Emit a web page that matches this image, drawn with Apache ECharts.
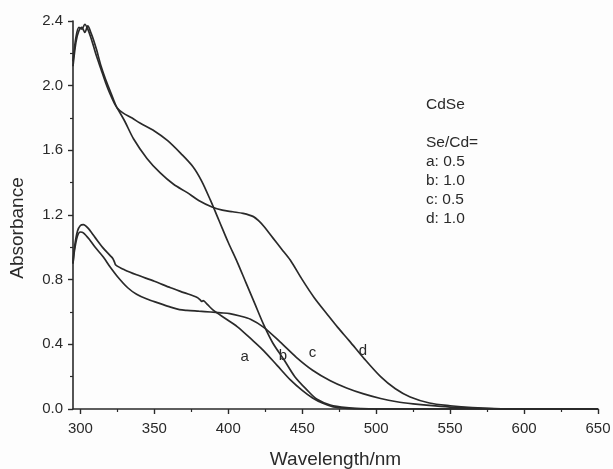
<!DOCTYPE html>
<html>
<head>
<meta charset="utf-8">
<script src="https://cdn.jsdelivr.net/npm/echarts@6/dist/echarts.min.js"></script>
<style>
  html, body { margin: 0; padding: 0; background: #fdfdfd; }
  #chart { width: 613px; height: 469px; }
</style>
</head>
<body>
<div id="chart"></div>
<script>
// wavelength (nm), absorbance pairs
var curveA = [[295,0.9],[296,1.0],[298,1.1],[300,1.135],[302,1.14],[305,1.12],[310,1.06],[315,1.0],[320,0.95],[322,0.93],[323,0.91],[324,0.89],[330,0.86],[338,0.83],[350,0.79],[361,0.75],[370,0.72],[379,0.69],[381,0.675],[382,0.665],[383,0.67],[386,0.645],[390,0.61],[398,0.56],[406,0.51],[417,0.42],[424,0.36],[433,0.27],[442,0.18],[450,0.115],[457,0.068],[464,0.035],[471,0.013],[480,0.004],[490,0],[650,0]];
var curveB = [[295,2.12],[297,2.27],[299,2.34],[301,2.36],[303,2.33],[305,2.37],[307,2.33],[309,2.28],[311,2.22],[314,2.12],[317,2.04],[320,1.97],[323,1.9],[325,1.86],[329,1.83],[335,1.8],[340,1.77],[350,1.72],[359,1.66],[368,1.58],[376,1.5],[382,1.41],[388,1.29],[394,1.16],[400,1.03],[406,0.91],[412,0.78],[418,0.65],[424,0.52],[430,0.41],[438,0.3],[445,0.2],[453,0.12],[460,0.06],[469,0.025],[480,0.008],[490,0.002],[500,0],[650,0]];
var curveC = [[295,0.9],[296,0.98],[298,1.07],[300,1.095],[302,1.09],[306,1.05],[310,1.0],[315.5,0.94],[320,0.88],[325,0.82],[332,0.75],[338,0.71],[345,0.68],[353,0.655],[361,0.63],[367,0.615],[372,0.61],[380,0.605],[388,0.6],[395,0.595],[401,0.59],[408,0.575],[415,0.555],[424,0.505],[435,0.415],[446,0.32],[457,0.24],[469,0.175],[480,0.13],[491,0.095],[503,0.065],[514,0.045],[525,0.032],[536,0.022],[550,0.012],[565,0.005],[580,0.001],[600,0],[650,0]];
var curveD = [[295,2.15],[297,2.3],[299,2.36],[301,2.35],[303,2.38],[305,2.35],[307,2.3],[309,2.24],[311,2.18],[314,2.1],[317,2.02],[320,1.95],[323,1.89],[325,1.86],[330,1.78],[336,1.67],[345,1.55],[354,1.46],[363,1.39],[372,1.34],[380,1.29],[389,1.25],[396,1.23],[403,1.22],[410,1.21],[417,1.19],[421,1.16],[424,1.13],[430,1.06],[436,0.99],[442,0.92],[450,0.8],[458,0.69],[467,0.585],[474,0.505],[482,0.42],[492,0.31],[503,0.2],[513,0.125],[523,0.074],[536,0.037],[550,0.02],[565,0.008],[580,0.002],[600,0],[650,0]];

var curveNames = ["a", "b", "c", "d"];
var labelPos = [[411, 0.32], [437, 0.33], [457, 0.35], [491, 0.36]];

var xMajor = [300, 350, 400, 450, 500, 550, 600, 650];
var xMinor = [325, 375, 425, 475, 525, 575, 625];

var noteLines = ["CdSe", "", "Se/Cd=", "a: 0.5", "b: 1.0", "c: 0.5", "d: 1.0"];

var font = "Liberation Sans, Arial, sans-serif";
var ink = "#2a2a2a";

var chart = echarts.init(document.getElementById("chart"));

var curves = [curveA, curveB, curveC, curveD];
var series = curves.map(function (d, i) {
  return {
    name: curveNames[i],
    type: "line",
    data: d,
    smooth: 0.3,
    showSymbol: false,
    lineStyle: { color: ink, width: 1.7 },
    markPoint: {
      symbol: "circle",
      symbolSize: 0,
      label: {
        show: true,
        formatter: curveNames[i],
        color: ink,
        fontFamily: font,
        fontSize: 15
      },
      data: [{ coord: labelPos[i] }]
    }
  };
});

var option = {
  backgroundColor: "#fdfdfd",
  animation: false,
  grid: { left: 73, right: 15, top: 21, bottom: 60, outerBoundsMode: "none" },
  xAxis: [
    {
      type: "value",
      min: 295,
      max: 650,
      name: "Wavelength/nm",
      nameLocation: "middle",
      nameGap: 41,
      nameTextStyle: { color: ink, fontFamily: font, fontSize: 19 },
      axisLine: { lineStyle: { color: ink, width: 1.6 } },
      axisTick: { customValues: xMajor, length: 5, lineStyle: { color: ink, width: 1.4 } },
      axisLabel: { customValues: xMajor, color: ink, fontFamily: font, fontSize: 15, margin: 12 },
      splitLine: { show: false }
    },
    {
      type: "value",
      min: 295,
      max: 650,
      position: "bottom",
      axisLine: { show: false },
      axisTick: { customValues: xMinor, length: 3, lineStyle: { color: ink, width: 1.2 } },
      axisLabel: { show: false },
      splitLine: { show: false }
    }
  ],
  yAxis: {
    type: "value",
    min: 0,
    max: 2.4,
    interval: 0.4,
    axisLine: { show: true, lineStyle: { color: ink, width: 1.6 } },
    axisTick: { show: true, length: 5, lineStyle: { color: ink, width: 1.4 } },
    minorTick: { show: true, splitNumber: 2, length: 3, lineStyle: { color: ink, width: 1.2 } },
    axisLabel: {
      color: ink,
      fontFamily: font,
      fontSize: 15,
      margin: 10,
      formatter: function (v) { return v.toFixed(1); }
    },
    splitLine: { show: false }
  },
  graphic: [
    {
      type: "text",
      x: 18,
      y: 228,
      rotation: Math.PI / 2,
      style: {
        text: "Absorbance",
        fill: ink,
        font: "19px " + font,
        textAlign: "center",
        textVerticalAlign: "middle"
      }
    },
    {
      type: "text",
      left: 426,
      top: 95,
      style: {
        text: noteLines.join("\n"),
        fill: ink,
        font: "15.5px " + font,
        lineHeight: 19
      }
    }
  ],
  series: series
};

chart.setOption(option);
</script>
</body>
</html>
